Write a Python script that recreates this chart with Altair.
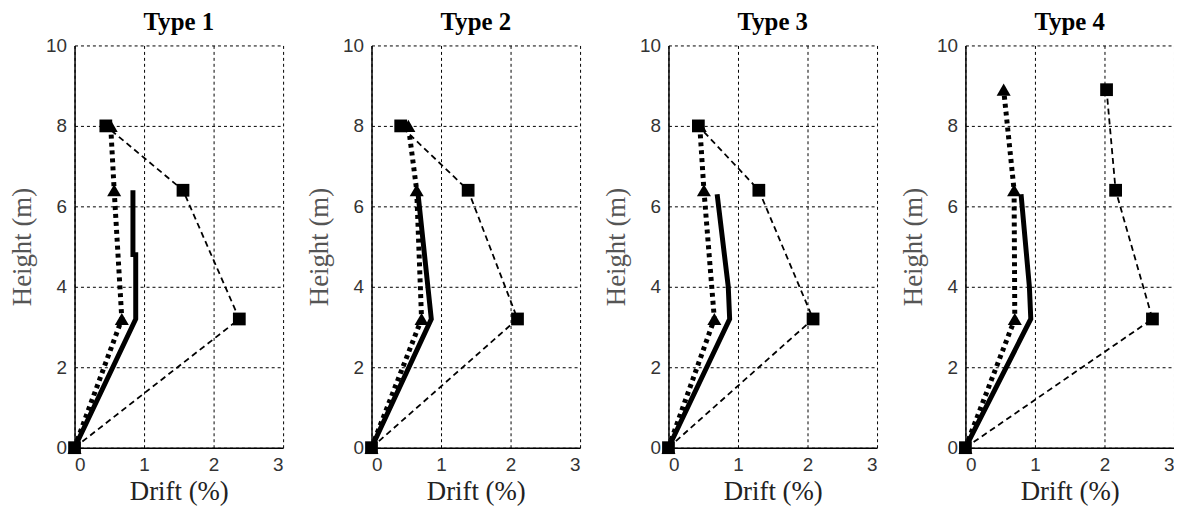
import altair as alt
import pandas as pd

type_names = ["Type 1", "Type 2", "Type 3", "Type 4"]

# dashed line with square markers
sq_drift = [[0, 2.37, 1.56, 0.45], [0, 2.10, 1.39, 0.42], [0, 2.08, 1.30, 0.43], [0, 2.69, 2.16, 2.03]]
sq_height = [[0, 3.2, 6.4, 8.0], [0, 3.2, 6.4, 8.0], [0, 3.2, 6.4, 8.0], [0, 3.2, 6.4, 8.9]]

# thick dotted line with triangle markers
tri_drift = [[0, 0.68, 0.57, 0.52], [0, 0.72, 0.65, 0.53], [0, 0.66, 0.51, 0.45], [0, 0.71, 0.70, 0.55]]
tri_height = [[0, 3.2, 6.4, 8.0], [0, 3.2, 6.4, 8.0], [0, 3.2, 6.4, 8.0], [0, 3.2, 6.4, 8.9]]

# thick solid line, no markers
solid_drift = [[0, 0.88, 0.88, 0.84, 0.84], [0, 0.86, 0.67], [0, 0.88, 0.86, 0.70], [0, 0.94, 0.92, 0.80]]
solid_height = [[0, 3.2, 4.8, 4.8, 6.4], [0, 3.2, 6.3], [0, 3.2, 4.0, 6.3], [0, 3.2, 4.0, 6.3]]

x_ticks = [0, 1, 2, 3]
y_ticks = [0, 2, 4, 6, 8, 10]

rows = []
for p, name in enumerate(type_names):
    for series, xs, ys in (("sq", sq_drift[p], sq_height[p]),
                           ("tri", tri_drift[p], tri_height[p]),
                           ("solid", solid_drift[p], solid_height[p])):
        for i, (xv, yv) in enumerate(zip(xs, ys)):
            rows.append({"panel": name, "series": series, "idx": i, "drift": xv, "height": yv})
df = pd.DataFrame(rows)

SERIF = "Liberation Serif"
SANS = "Liberation Sans"


def panel(name):
    d = df[df["panel"] == name]
    x = alt.X("drift:Q", scale=alt.Scale(domain=[0, 3], nice=False),
              axis=alt.Axis(values=x_ticks, title="Drift (%)", format="d"))
    y = alt.Y("height:Q", scale=alt.Scale(domain=[0, 10], nice=False),
              axis=alt.Axis(values=y_ticks, title="Height (m)", format="d", titleColor="#555555"))
    order = alt.Order("idx:Q")
    base = alt.Chart(d).encode(x=x, y=y, order=order)
    sq_line = base.transform_filter(alt.datum.series == "sq").mark_line(
        color="black", strokeWidth=1.8, strokeDash=[6, 4])
    sq_pts = base.transform_filter(alt.datum.series == "sq").mark_point(
        shape="square", filled=True, color="black", size=165, opacity=1)
    tri_line = base.transform_filter(alt.datum.series == "tri").mark_line(
        color="black", strokeWidth=5, strokeDash=[4, 4])
    tri_pts = base.transform_filter(alt.datum.series == "tri").mark_point(
        shape="triangle-up", filled=True, color="black", size=200, opacity=1)
    solid = base.transform_filter(alt.datum.series == "solid").mark_line(
        color="black", strokeWidth=5)
    return alt.layer(sq_line, sq_pts, tri_line, tri_pts, solid).properties(
        width=210, height=405,
        title=alt.TitleParams(name, font=SERIF, fontSize=25, fontWeight="bold",
                              color="black", offset=2, anchor="middle"))


chart = alt.hconcat(*[panel(n) for n in type_names], spacing=22).properties(
    padding={"left": 0, "top": 0, "right": 0, "bottom": 0}
).configure_view(stroke=None).configure_axis(
    domainColor="black", domainWidth=1.5,
    grid=True, gridColor="black", gridDash=[3, 3], gridWidth=1, gridOpacity=1,
    ticks=False,
    labelFont=SANS, labelFontSize=19, labelColor="#333333",
    titleFont=SERIF, titleFontSize=27, titleFontWeight="normal", titleColor="#222222",
).configure_axisX(labelPadding=8, titlePadding=4).configure_axisY(
    labelPadding=8, titlePadding=9)

chart.save("out.html", embed_options={"renderer": "svg", "actions": False})
